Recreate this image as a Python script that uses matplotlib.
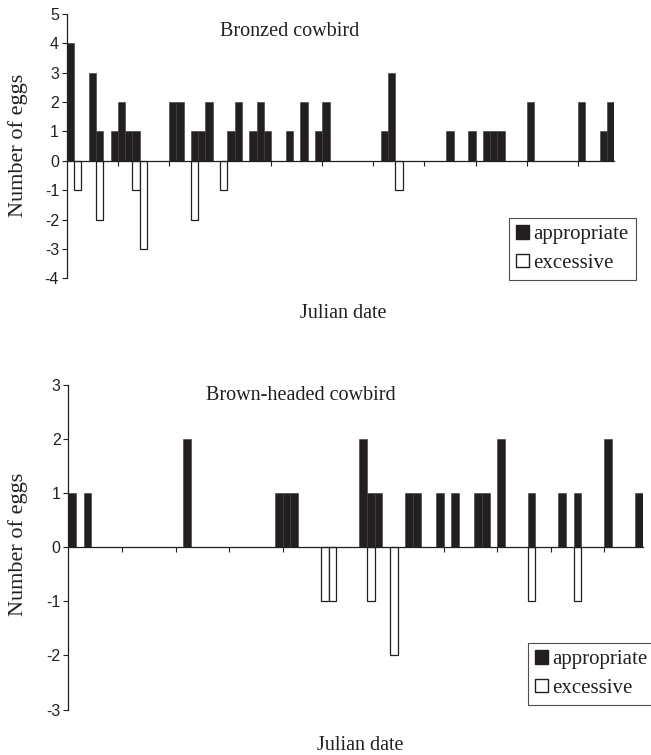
import matplotlib
matplotlib.use('Agg')
import matplotlib.pyplot as plt
from matplotlib.patches import Patch

plt.rcParams['axes.unicode_minus'] = False

# category index (one category per day) and number of eggs
n_days = 75

bronzed_app_days = [0, 3, 4, 6, 7, 8, 9, 14, 15, 17, 18, 19, 22, 23, 25, 26, 27,
                    30, 32, 34, 35, 43, 44, 52, 55, 57, 58, 59, 63, 70, 73, 74]
bronzed_app_eggs = [4, 3, 1, 1, 2, 1, 1, 2, 2, 1, 1, 2, 1, 2, 1, 2, 1,
                    1, 2, 1, 2, 1, 3, 1, 1, 1, 1, 1, 2, 2, 1, 2]
bronzed_exc_days = [1, 4, 9, 10, 17, 21, 45]
bronzed_exc_eggs = [-1, -2, -1, -3, -2, -1, -1]

brown_app_days = [0, 2, 15, 27, 28, 29, 38, 39, 40, 44, 45, 48, 50, 53, 54,
                  56, 60, 64, 66, 70, 74]
brown_app_eggs = [1, 1, 2, 1, 1, 1, 2, 1, 1, 1, 1, 1, 1, 1, 1,
                  2, 1, 1, 1, 2, 1]
brown_exc_days = [33, 34, 39, 42, 60, 66]
brown_exc_eggs = [-1, -1, -1, -2, -1, -1]

W, H = 651, 755
DARK = '#231f20'
SERIF = ['Liberation Serif', 'DejaVu Serif']
SANS = ['Liberation Sans', 'DejaVu Sans']


def px_box(left, top, right, bottom):
    return [left / W, 1 - bottom / H, (right - left) / W, (bottom - top) / H]


def draw_panel(ax, app_days, app_eggs, exc_days, exc_eggs, ylim):
    ax.bar(app_days, app_eggs, width=1.0, color=DARK, edgecolor='#3a3a3a',
           linewidth=0.4, zorder=2)
    ax.bar(exc_days, exc_eggs, width=1.0, color='white', edgecolor=DARK,
           linewidth=0.9, zorder=2)
    ax.set_xlim(-0.5, n_days - 0.5)
    ax.set_ylim(*ylim)
    ax.set_yticks(range(ylim[0], ylim[1] + 1))
    ax.set_xticks([k * 7 - 0.5 for k in range(1, 11)])
    ax.set_xticklabels([])
    for side in ['top', 'right']:
        ax.spines[side].set_visible(False)
    ax.spines['bottom'].set_position(('data', 0))
    for side in ['left', 'bottom']:
        ax.spines[side].set_color(DARK)
        ax.spines[side].set_linewidth(0.9)
    ax.spines['bottom'].set_zorder(3)
    ax.tick_params(axis='both', direction='out', length=3.5, width=0.8,
                   color=DARK)
    ax.tick_params(axis='y', labelsize=11.5, pad=2)
    for lab in ax.get_yticklabels():
        lab.set_family(SANS)
        lab.set_color(DARK)


fig = plt.figure(figsize=(W / 100, H / 100), dpi=100)

ax1 = fig.add_axes(px_box(66.7, 14, 614.3, 278.3))
draw_panel(ax1, bronzed_app_days, bronzed_app_eggs,
           bronzed_exc_days, bronzed_exc_eggs, (-4, 5))

ax2 = fig.add_axes(px_box(68.3, 385, 642.7, 709.5))
draw_panel(ax2, brown_app_days, brown_app_eggs,
           brown_exc_days, brown_exc_eggs, (-3, 3))

handles = [Patch(facecolor=DARK, edgecolor=DARK, label='appropriate'),
           Patch(facecolor='white', edgecolor=DARK, label='excessive')]


def add_legend(left, top):
    leg = fig.legend(handles=handles, loc='upper left',
                     bbox_to_anchor=(left / W, 1 - top / H),
                     prop={'family': SERIF, 'size': 15}, frameon=True,
                     fancybox=False, edgecolor=DARK, handlelength=0.6,
                     handleheight=0.6, handletextpad=0.2, borderpad=0.35,
                     labelspacing=0.45, borderaxespad=0)
    leg.get_frame().set_linewidth(0.8)
    for t in leg.get_texts():
        t.set_color(DARK)


add_legend(509, 218)
add_legend(528, 643)

txt = dict(family=SERIF, color=DARK, ha='center', va='center')
fig.text(290 / W, 1 - 31 / H, 'Bronzed cowbird', fontsize=14.5, **txt)
fig.text(343 / W, 1 - 313 / H, 'Julian date', fontsize=14.5, **txt)
fig.text(301 / W, 1 - 396 / H, 'Brown-headed cowbird', fontsize=14.5, **txt)
fig.text(360 / W, 1 - 745 / H, 'Julian date', fontsize=14.5, **txt)
fig.text(18 / W, 1 - 145 / H, 'Number of eggs', fontsize=16, rotation=90, **txt)
fig.text(18 / W, 1 - 544 / H, 'Number of eggs', fontsize=16, rotation=90, **txt)

fig.savefig('out.png', dpi=100)
